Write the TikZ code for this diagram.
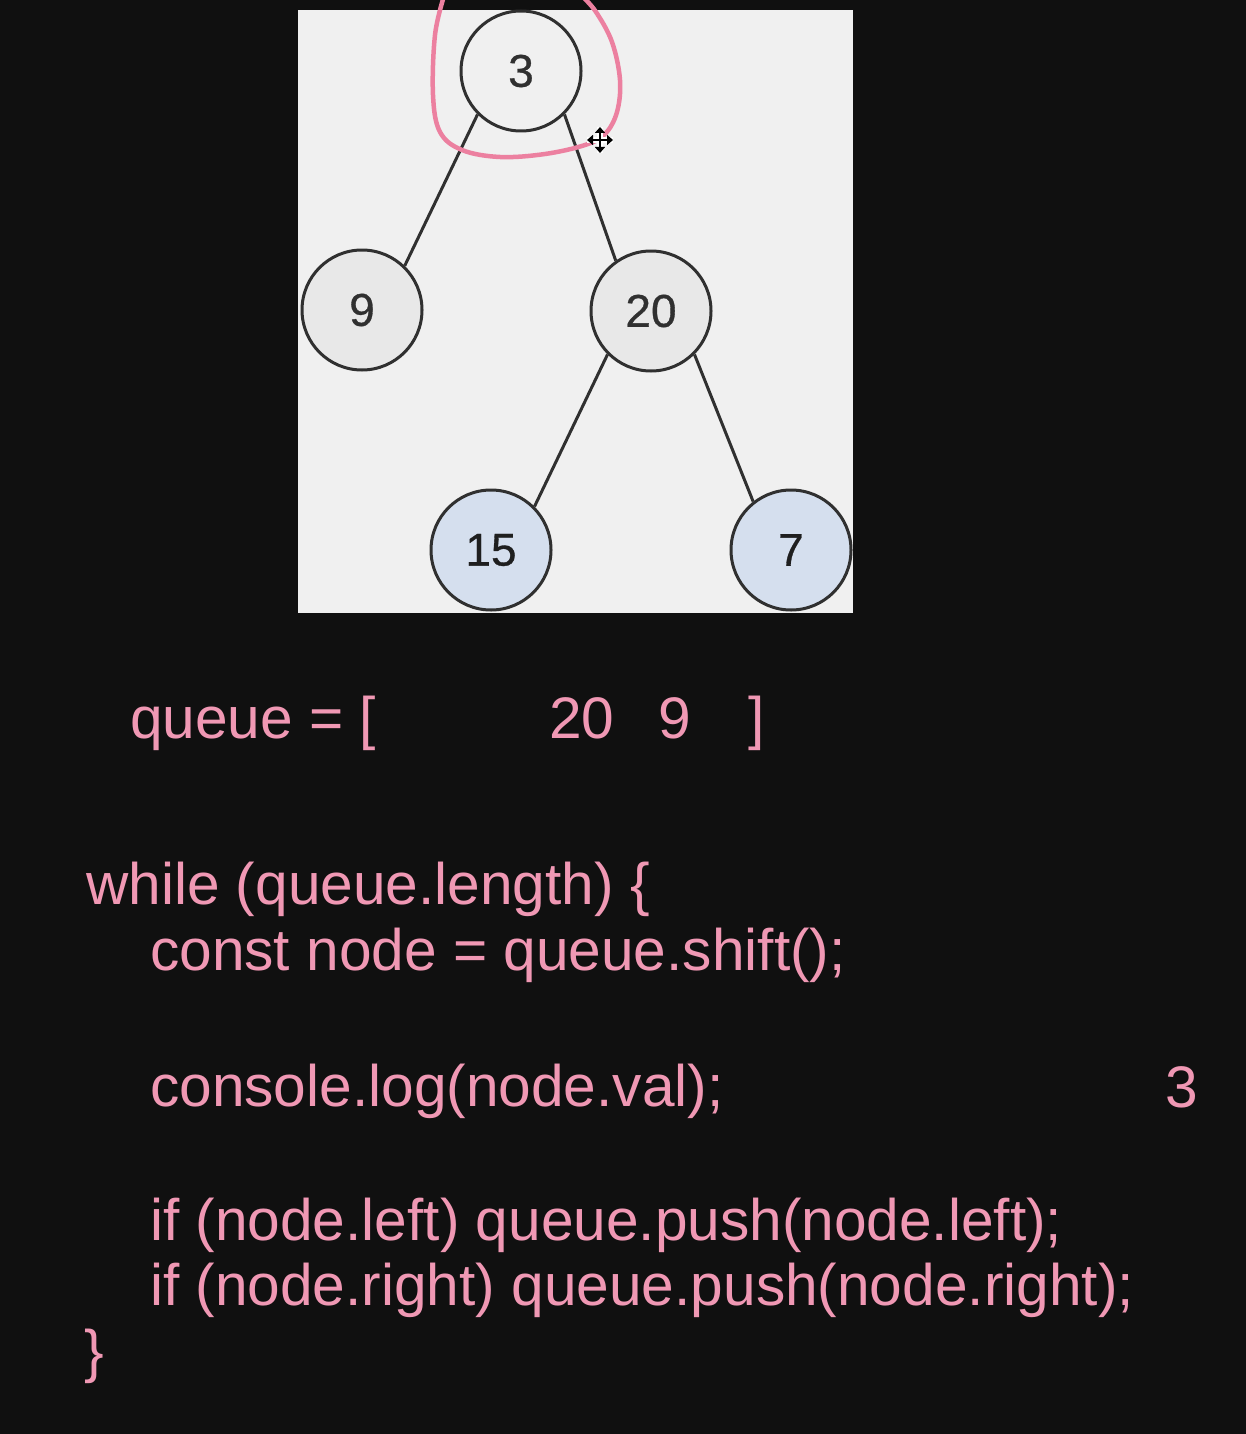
\documentclass[tikz,border=0pt]{standalone}
\usepackage{fontspec}
\setmainfont{Liberation Sans}
\newfontfamily\keyfont{Liberation Sans}[FakeBold=0.7]
\usetikzlibrary{arrows.meta}
\definecolor{bgdark}{RGB}{16,16,16}
\definecolor{panelgray}{RGB}{240,240,240}
\definecolor{innergray}{RGB}{232,232,232}
\definecolor{leafblue}{RGB}{213,223,238}
\definecolor{rimgray}{RGB}{48,48,48}
\definecolor{codepink}{RGB}{240,152,180}
\definecolor{markpink}{RGB}{236,128,160}
\tikzset{
  treenode/.style={circle, draw=rimgray, line width=3pt, minimum size=120pt,
    inner sep=0pt, font=\keyfont\fontsize{46}{46}\selectfont, text=rimgray},
  rootnode/.style={treenode, fill=panelgray},
  midnode/.style={treenode, fill=innergray},
  leafnode/.style={treenode, fill=leafblue, text=black!88},
  branch/.style={draw=rimgray, line width=3pt},
  codetext/.style={anchor=base west, inner sep=0pt, text=codepink,
    font=\fontsize{58.6}{66}\selectfont},
}
\begin{document}
\begin{tikzpicture}[x=1pt, y=-1pt]
  % canvas
  \fill[bgdark] (0,0) rectangle (1246,1434);
  \useasboundingbox (0,0) rectangle (1246,1434);
  % tree panel
  \fill[panelgray] (298,10) rectangle (853,613);

  % tree
  \node[rootnode] (n3)  at (521,71)  {3};
  \node[midnode]  (n9)  at (362,310) {9};
  \node[midnode]  (n20) at (651,311) {20};
  \node[leafnode] (n15) at (491,550) {15};
  \node[leafnode] (n7)  at (791,550) {7};

  \draw[branch] (n3.225)  -- (n9.46);
  \draw[branch] (n3.315)  -- (n20.125);
  \draw[branch] (n20.225) -- (n15.45);
  \draw[branch] (n20.315) -- (n7.128);

  % hand-drawn loop around the root
  \begin{scope}
    \clip (0,0) rectangle (1246,1434);
    \draw[markpink, line width=4.5pt, line cap=round, line join=round]
      plot[smooth, tension=0.6] coordinates {
        (444,-4) (435,35) (433,95) (440,132) (462,150) (500,157)
        (545,154) (585,145) (605,134) (617,112) (620,80) (612,42)
        (596,12) (582,-4)};
  \end{scope}

  % move cursor
  \coordinate (cursor) at (600,140);
  \begin{scope}[shift={(cursor)}]
    \draw[white, line width=6pt] (-13,0) -- (13,0) (0,-13) -- (0,13);
    \foreach \a in {0,90,180,270}
      \draw[black, line width=2.5pt, -{Triangle[length=6pt,width=10pt]}]
        (0,0) -- ++(\a:13);
  \end{scope}

  % queue state
  \node[codetext] (qlabel) at (130,738) {queue = [};
  \node[codetext] (q20)    at (549,738) {20};
  \node[codetext] (q9)     at (658,738) {9};
  \node[codetext] (qend)   at (748,738) {]};

  % traversal loop
  \node[codetext] (l1) at (86,904)  {while (queue.length) \{};
  \node[codetext] (l2) at (150,970) {const node = queue.shift();};
  \node[codetext] (l3) at (150,1106) {console.log(node.val);};
  \node[codetext] (l4) at (150,1240) {if (node.left) queue.push(node.left);};
  \node[codetext] (l5) at (150,1305) {if (node.right) queue.push(node.right);};
  \node[codetext] (l6) at (84,1371) {\}};

  % printed output
  \node[codetext] (out) at (1165,1107) {3};
\end{tikzpicture}
\end{document}
